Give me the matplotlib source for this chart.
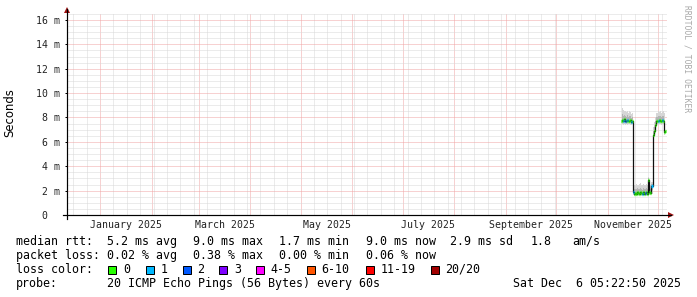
import matplotlib
matplotlib.use('Agg')
import matplotlib.pyplot as plt
import matplotlib.dates as mdates
from matplotlib.patches import Rectangle
import numpy as np
import pandas as pd

W, H, DPI = 697, 297, 100
MONO = 'DejaVu Sans Mono'

# ---------------- data ----------------
end_time = pd.Timestamp('2025-12-06 05:22:50')
span_days = 359

sample_start = pd.Timestamp('2025-11-09 06:00')
sample_step_min = 864

median_ms = [7.75, 7.80, 7.70, 7.85, 7.75, 7.70, 7.80, 7.75, 7.70, 7.80, 7.65, 7.75,
             1.90, 1.75, 1.80, 1.70, 1.85, 1.80, 1.75, 1.90, 1.80, 1.70, 1.85, 1.75,
             1.80, 1.90, 1.75, 2.90, 1.85, 1.80, 2.40,
             6.60, 6.90, 7.40, 7.70, 7.75, 7.70, 7.80, 7.75, 7.70, 7.80, 7.75, 6.80, 6.85]
loss = [0, 0, 1, 0, 2, 0, 1, 0, 0, 0, 1, 0,
        1, 0, 0, 0, 0, 0, 0, 0, 0, 1, 0, 0, 2, 0, 0, 0, 0, 0, 1,
        0, 0, 0, 0, 0, 1, 0, 0, 0, 1, 0, 0, 0]
smoke_lo = [7.40, 7.45, 7.35, 7.50, 7.40, 7.45, 7.40, 7.50, 7.45, 7.40, 7.35, 7.45,
            1.60, 1.55, 1.60, 1.55, 1.60, 1.55, 1.60, 1.65, 1.55, 1.60, 1.55, 1.60,
            1.60, 1.55, 1.60, 1.60, 1.65, 1.60, 1.70,
            6.30, 6.60, 7.10, 7.40, 7.45, 7.40, 7.50, 7.45, 7.40, 7.50, 7.45, 6.60, 6.65]
smoke_hi = [8.70, 8.75, 8.60, 8.55, 8.50, 8.45, 8.55, 8.40, 8.50, 8.45, 8.30, 8.35,
            2.40, 2.50, 2.45, 2.55, 2.50, 2.45, 2.55, 2.60, 2.50, 2.45, 2.55, 2.50,
            2.45, 2.55, 2.50, 3.10, 2.60, 2.50, 2.70,
            7.20, 7.60, 8.00, 8.35, 8.40, 8.50, 8.45, 8.55, 8.40, 8.45, 8.50, 8.40, 8.30]

y_ticks = [0, 2, 4, 6, 8, 10, 12, 14, 16]
y_tick_labels = ['0  ', '2 m', '4 m', '6 m', '8 m', '10 m', '12 m', '14 m', '16 m']
y_max = 16.57

x_label_months = ['2025-01', '2025-03', '2025-05', '2025-07', '2025-09', '2025-11']

loss_labels = ['0', '1', '2', '3', '4-5', '6-10', '11-19', '20/20']
loss_colors = ['#26ff00', '#00b8ff', '#0059ff', '#7e00ff', '#ff00ff', '#ff5500', '#ff0000', '#a10000']

rtt_stats = ['5.2 ms avg', '9.0 ms max', '1.7 ms min', '9.0 ms now', '2.9 ms sd', '1.8', 'am/s']
loss_stats = ['0.02 % avg', '0.38 % max', '0.00 % min', '0.06 % now']
probe_text = '20 ICMP Echo Pings (56 Bytes) every 60s'
date_text = 'Sat Dec  6 05:22:50 2025'

# ---------------- figure ----------------
fig = plt.figure(figsize=(W / DPI, H / DPI), dpi=DPI)
fig.patch.set_facecolor('white')
L, R, T, B = 67, 667, 13, 215
ax = fig.add_axes([L / W, 1 - B / H, (R - L) / W, (B - T) / H])
ax.set_facecolor('white')

start_time = end_time - pd.Timedelta(days=span_days)
ax.set_xlim(start_time, end_time)
ax.set_ylim(0, y_max)

times = pd.date_range(sample_start, periods=len(median_ms), freq=f'{sample_step_min}min')
med = np.array(median_ms)
lo = np.array(smoke_lo)
hi = np.array(smoke_hi)
ls = np.array(loss)
half = pd.Timedelta(minutes=sample_step_min / 2)

# smoke
ax.fill_between(times, lo, hi, step='mid', color='#d6d6d6', lw=0, zorder=3)
ax.fill_between(times, (lo + med) / 2, (hi + med) / 2, step='mid', color='#b4b4b4', lw=0, zorder=3)
# median line
ax.plot(times, med, drawstyle='steps-mid', color='#101010', lw=0.9, zorder=4)
# loss coloured median marks
for ci, col in enumerate(loss_colors):
    m = ls == ci
    if m.any():
        ax.hlines(med[m], times[m] - half, times[m] + half, colors=col, lw=2.4,
                  zorder=5, capstyle='butt')

# grid
px = 72 / DPI
ax.set_yticks(y_ticks)
ax.set_yticklabels(y_tick_labels)
ax.set_yticks(np.arange(0, y_max, 0.5), minor=True)
ax.xaxis.set_major_locator(mdates.MonthLocator())
anchor = pd.Timestamp('2025-01-01')
minor_days = [anchor + pd.Timedelta(days=8 * k) for k in range(-3, 45)]
minor_days = [d for d in minor_days if start_time <= d <= end_time]
ax.set_xticks(minor_days, minor=True)
ax.xaxis.set_major_formatter(matplotlib.ticker.NullFormatter())
ax.grid(which='minor', color='#d8d8d8', lw=px, ls=(0, (1, 1)), zorder=1)
ax.grid(which='major', color='#f0a4a4', lw=px, ls=(0, (1, 1)), zorder=2)
ax.set_axisbelow(True)

for s in ax.spines.values():
    s.set_visible(False)
ax.tick_params(axis='y', which='major', direction='out', length=2 * px, width=px,
               pad=5 * px, labelsize=7.1, labelcolor='#222222', color='black')
ax.tick_params(axis='y', which='minor', length=0)
ax.tick_params(axis='x', which='both', length=0)
for lab in ax.get_yticklabels():
    lab.set_fontfamily(MONO)

# x labels centred in the month
for mstr in x_label_months:
    ms = pd.Timestamp(mstr + '-01')
    me = ms + pd.offsets.MonthBegin(1)
    mid = ms + (me - ms) / 2
    ax.annotate(ms.strftime('%B %Y'), xy=(mid, 0), xycoords=('data', 'axes fraction'),
                xytext=(0, -9.5 * px), textcoords='offset points', ha='center', va='center',
                fontsize=7.1, family=MONO, color='#222222', annotation_clip=False)

# axes lines with arrows
fig.add_artist(plt.Line2D([63 / W, 671 / W], [1 - 215 / H, 1 - 215 / H], color='black', lw=px * 1.2))
fig.add_artist(plt.Line2D([67 / W, 67 / W], [1 - 219 / H, 1 - 9 / H], color='black', lw=px * 1.2))
fig.add_artist(plt.Polygon([[668 / W, 1 - 212 / H], [674 / W, 1 - 215 / H], [668 / W, 1 - 218 / H]],
                           closed=True, color='#a01010', lw=0))
fig.add_artist(plt.Polygon([[64 / W, 1 - 13 / H], [67 / W, 1 - 7 / H], [70 / W, 1 - 13 / H]],
                           closed=True, color='#a01010', lw=0))

# y label
fig.text(10 / W, 1 - 113 / H, 'Seconds', rotation=90, ha='center', va='center',
         fontsize=8.4, family='DejaVu Sans', color='black')
# watermark
fig.text(687 / W, 1 - 59 / H, 'RRDTOOL / TOBI OETIKER', rotation=270, ha='center', va='center',
         fontsize=5.8, family=MONO, color='#a8a8a8')

# legend
FS = 8.4
def t(x, y, s, **kw):
    fig.text(x / W, 1 - y / H, s, ha='left', va='center', fontsize=FS, family=MONO,
             color='black', **kw)

row1, row2, row3, row4 = 241.5, 255.5, 269.5, 283.5
t(16, row1, 'median rtt:')
for x, s in zip([107.3, 193.3, 279.3, 365.7, 450, 530.7, 572.3], rtt_stats):
    t(x, row1, s)
t(16, row2, 'packet loss:')
for x, s in zip([107.3, 193.3, 279.3, 365.7], loss_stats):
    t(x, row2, s)
t(16, row3, 'loss color:')
box_x = [108.3, 145.7, 182.7, 219.3, 256.3, 307, 365.7, 430.7]
for x, lab, col in zip(box_x, loss_labels, loss_colors):
    fig.add_artist(Rectangle((x / W, 1 - 273.5 / H), 8 / W, 8 / H, facecolor=col,
                             edgecolor='black', lw=px))
    t(x + 14.5, row3, lab)
t(16, row4, 'probe:')
t(107.3, row4, probe_text)
t(513.3, row4, date_text)

fig.savefig('out.png', dpi=DPI, facecolor='white')
